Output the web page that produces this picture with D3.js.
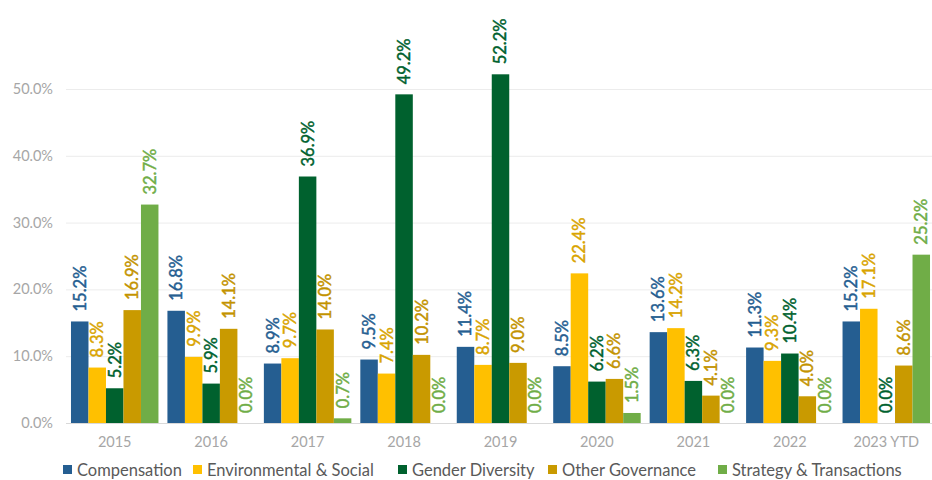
<!DOCTYPE html>
<html>
<head>
<meta charset="utf-8">
<script src="https://cdn.jsdelivr.net/npm/d3@7"></script>
<style>
  body { margin: 0; background: #fff; }
  svg text { font-family: "Lato", "Open Sans", sans-serif; }
</style>
</head>
<body>
<div id="chart"></div>
<script>
// data
const years = ["2015", "2016", "2017", "2018", "2019", "2020", "2021", "2022", "2023 YTD"];
const seriesNames = ["Compensation", "Environmental & Social", "Gender Diversity", "Other Governance", "Strategy & Transactions"];
const compensation = [15.2, 16.8, 8.9, 9.5, 11.4, 8.5, 13.6, 11.3, 15.2];
const envSocial = [8.3, 9.9, 9.7, 7.4, 8.7, 22.4, 14.2, 9.3, 17.1];
const genderDiversity = [5.2, 5.9, 36.9, 49.2, 52.2, 6.2, 6.3, 10.4, 0.0];
const otherGovernance = [16.9, 14.1, 14.0, 10.2, 9.0, 6.6, 4.1, 4.0, 8.6];
const strategy = [32.7, 0.0, 0.7, 0.0, 0.0, 1.5, 0.0, 0.0, 25.2];
const yTicks = [0, 10, 20, 30, 40, 50];

const barColors = ["#255e91", "#ffc000", "#00612e", "#c99a00", "#70ad47"];
const labelColors = ["#255e91", "#d9a400", "#00612e", "#c39300", "#70ad47"];
const legendX = [63, 193, 398, 548, 718]; // legend item positions

const allSeries = [compensation, envSocial, genderDiversity, otherGovernance, strategy];

const width = 932, height = 480;
const svg = d3.select("#chart").append("svg").attr("width", width).attr("height", height);

// scales
const x = d3.scaleBand().domain(years).range([66.5, 934.5]).paddingInner(0.093).paddingOuter(0.0465);
const xs = d3.scaleBand().domain(d3.range(seriesNames.length)).range([0, x.bandwidth()]);
const y = d3.scaleLinear().domain([0, 50]).range([423, 89]);

// grid
svg.append("g")
  .selectAll("line")
  .data(yTicks)
  .join("line")
  .attr("x1", 66).attr("x2", width)
  .attr("y1", d => y(d) + 0.5).attr("y2", d => y(d) + 0.5)
  .attr("stroke", d => d === 0 ? "#d9d9d9" : "#ececec")
  .attr("stroke-width", 1);

// y labels
svg.append("g")
  .selectAll("text")
  .data(yTicks)
  .join("text")
  .attr("x", 53)
  .attr("y", d => y(d))
  .attr("dy", "0.35em")
  .attr("text-anchor", "end")
  .attr("fill", "#a6a6a6")
  .style("font-size", "14.5px")
  .text(d => d.toFixed(1) + "%");

// x labels
svg.append("g")
  .selectAll("text")
  .data(years)
  .join("text")
  .attr("x", d => x(d) + x.bandwidth() / 2)
  .attr("y", 447)
  .attr("text-anchor", "middle")
  .attr("fill", "#a6a6a6")
  .style("font-size", "14.5px")
  .text(d => d);

// bars
const rows = [];
years.forEach((yr, i) => {
  allSeries.forEach((s, k) => rows.push({ year: yr, k: k, v: s[i] }));
});

const bars = svg.append("g");
bars.selectAll("rect")
  .data(rows)
  .join("rect")
  .attr("x", d => x(d.year) + xs(d.k))
  .attr("width", xs.bandwidth())
  .attr("y", d => y(d.v))
  .attr("height", d => y(0) - y(d.v))
  .attr("fill", d => barColors[d.k]);

// value labels (rotated), a thin stroke to get a medium weight
bars.selectAll("text")
  .data(rows)
  .join("text")
  .attr("transform", d => `translate(${x(d.year) + xs(d.k) + xs.bandwidth() / 2}, ${y(d.v) - 10}) rotate(-90)`)
  .attr("dy", "0.36em")
  .attr("fill", d => labelColors[d.k])
  .attr("stroke", d => labelColors[d.k])
  .attr("stroke-width", 0.45)
  .style("font-size", "16.5px")
  .text(d => d.v.toFixed(1) + "%");

// legend
const legend = svg.append("g").attr("transform", "translate(0, 470)");
seriesNames.forEach((name, k) => {
  const item = legend.append("g").attr("transform", `translate(${legendX[k]}, 0)`);
  item.append("rect").attr("x", 0).attr("y", -5).attr("width", 9).attr("height", 9).attr("fill", barColors[k]);
  item.append("text").attr("x", 14).attr("y", 0).attr("dy", "0.35em")
    .attr("fill", "#595959").style("font-size", "16.5px").text(name);
});
</script>
</body>
</html>
